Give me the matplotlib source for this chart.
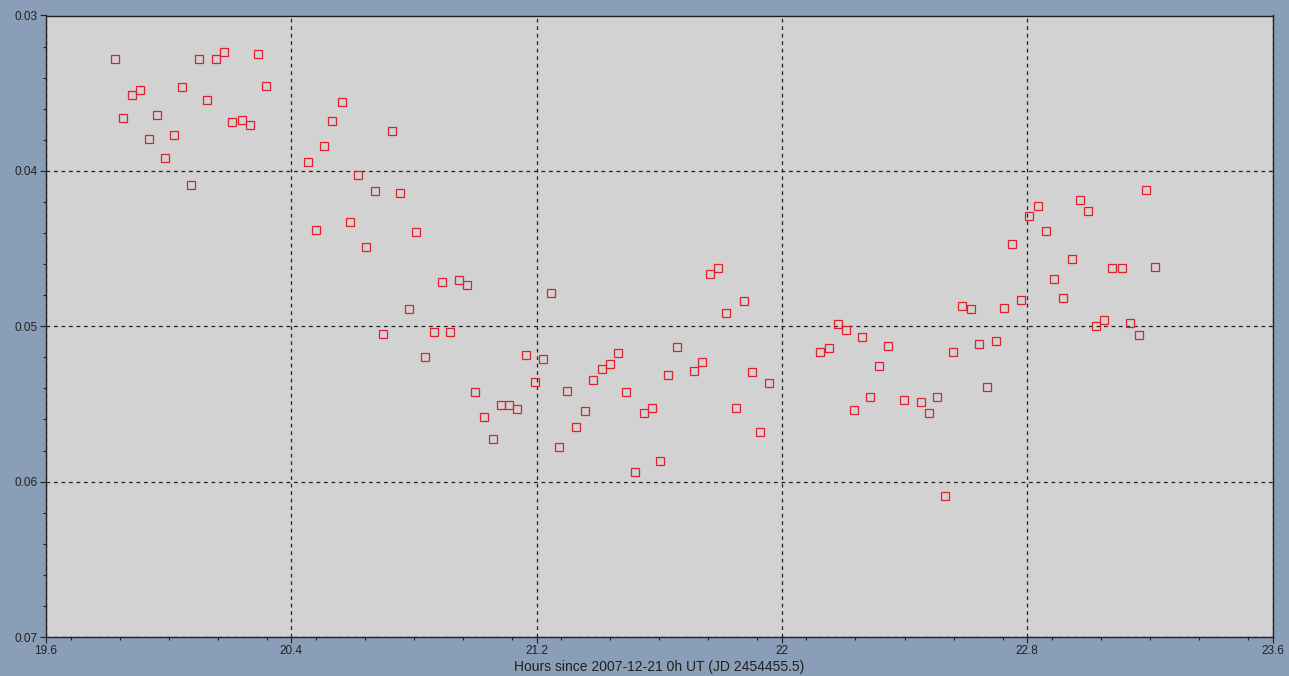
import matplotlib
matplotlib.use("Agg")
import matplotlib.pyplot as plt
from matplotlib.ticker import MultipleLocator

hours = [19.825, 19.852, 19.879, 19.908, 19.936, 19.963, 19.989, 20.016, 20.042, 20.073,
         20.099, 20.126, 20.153, 20.179, 20.206, 20.238, 20.264, 20.291, 20.316,
         20.454, 20.482, 20.508, 20.534, 20.564, 20.590, 20.619, 20.643, 20.672, 20.698,
         20.729, 20.756, 20.783, 20.806, 20.835, 20.865, 20.893, 20.919, 20.946, 20.973,
         21.000, 21.030, 21.057, 21.083, 21.110, 21.137, 21.164, 21.195, 21.222, 21.248,
         21.274, 21.300, 21.327, 21.358, 21.385, 21.412, 21.438, 21.465, 21.493, 21.522,
         21.549, 21.575, 21.601, 21.630, 21.657, 21.712, 21.739, 21.765, 21.793, 21.819,
         21.849, 21.876, 21.904, 21.930, 21.957,
         22.125, 22.155, 22.182, 22.209, 22.235, 22.261, 22.287, 22.318, 22.345, 22.399,
         22.453, 22.480, 22.506, 22.533, 22.559, 22.586, 22.616, 22.642, 22.670, 22.697,
         22.723, 22.750, 22.781, 22.807, 22.834, 22.860, 22.887, 22.917, 22.945, 22.971,
         22.998, 23.024, 23.052, 23.078, 23.108, 23.135, 23.163, 23.189, 23.216]

mags = [0.03283, 0.03661, 0.03511, 0.03481, 0.03797, 0.03640, 0.03917, 0.03767, 0.03459, 0.04092,
        0.03277, 0.03541, 0.03283, 0.03238, 0.03683, 0.03674, 0.03706, 0.03245, 0.03451,
        0.03941, 0.04380, 0.03842, 0.03677, 0.03556, 0.04326, 0.04025, 0.04492, 0.04130, 0.05051,
        0.03745, 0.04143, 0.04892, 0.04395, 0.05199, 0.05035, 0.04717, 0.05035, 0.04705, 0.04732,
        0.05421, 0.05586, 0.05724, 0.05505, 0.05505, 0.05535, 0.05186, 0.05361, 0.05210, 0.04786,
        0.05775, 0.05414, 0.05646, 0.05543, 0.05345, 0.05277, 0.05246, 0.05171, 0.05421, 0.05939,
        0.05556, 0.05527, 0.05866, 0.05316, 0.05135, 0.05285, 0.05232, 0.04666, 0.04627, 0.04915,
        0.05528, 0.04840, 0.05292, 0.05683, 0.05367,
        0.05163, 0.05141, 0.04988, 0.05021, 0.05541, 0.05072, 0.05457, 0.05255, 0.05126, 0.05472,
        0.05487, 0.05556, 0.05457, 0.06092, 0.05163, 0.04868, 0.04892, 0.05117, 0.05390, 0.05096,
        0.04883, 0.04470, 0.04832, 0.04290, 0.04227, 0.04386, 0.04696, 0.04816, 0.04567, 0.04188,
        0.04257, 0.04999, 0.04961, 0.04627, 0.04627, 0.04982, 0.05059, 0.04122, 0.04620]

x_ticks = [19.6, 20.4, 21.2, 22.0, 22.8, 23.6]
x_tick_labels = ["19.6", "20.4", "21.2", "22", "22.8", "23.6"]
y_ticks = [0.03, 0.04, 0.05, 0.06, 0.07]
y_tick_labels = ["0.03", "0.04", "0.05", "0.06", "0.07"]
x_label = "Hours since 2007-12-21 0h UT (JD 2454455.5)"

plt.rcParams['font.family'] = ['Liberation Sans', 'DejaVu Sans']

fig = plt.figure(figsize=(12.89, 6.76), dpi=100)
fig.patch.set_facecolor('#8a9eb8')
L, R, T, B = 46, 1272.5, 15.5, 637
ax = fig.add_axes([L / 1289, 1 - B / 676, (R - L) / 1289, (B - T) / 676])
ax.set_facecolor('#d2d2d2')

ax.plot(hours, mags, linestyle='none', marker='s', markersize=6.0,
        markerfacecolor='none', markeredgecolor='#e0202c', markeredgewidth=0.9)

ax.set_xlim(19.6, 23.6)
ax.set_ylim(0.07, 0.03)
ax.set_xticks(x_ticks)
ax.set_xticklabels(x_tick_labels)
ax.set_yticks(y_ticks)
ax.set_yticklabels(y_tick_labels)
ax.xaxis.set_minor_locator(MultipleLocator(0.16))
ax.yaxis.set_minor_locator(MultipleLocator(0.002))
ax.tick_params(axis='both', which='major', direction='out', length=4, width=0.8,
               labelsize=8.5, colors='#202020', pad=2)
ax.tick_params(axis='both', which='minor', direction='out', length=2.5, width=0.8,
               colors='#202020')

ax.grid(True, which='major', color='#222222', linestyle=(0, (3, 3)), linewidth=0.9)
for s in ax.spines.values():
    s.set_color('#222222')
    s.set_linewidth(1.0)

ax.set_xlabel(x_label, fontsize=10, color='#202020', labelpad=2)

fig.savefig("out.png", dpi=100, facecolor=fig.get_facecolor())
